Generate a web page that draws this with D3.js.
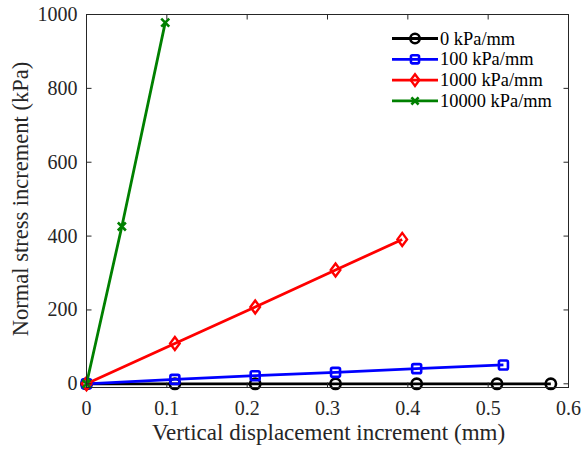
<!DOCTYPE html>
<html><head><meta charset="utf-8">
<script src="https://cdn.jsdelivr.net/npm/d3@7"></script>
<style>body{margin:0;background:#fff}svg{display:block}</style>
</head><body>
<svg id="c" width="584" height="453"></svg>
<script>
const seriesNames = ["0 kPa/mm","100 kPa/mm","1000 kPa/mm","10000 kPa/mm"];
const seriesColors = ["#000000","#0000ff","#ff0000","#008000"];
const seriesMarkers = ["circle","square","diamond","cross"];
const x0 = [0, 0.110, 0.210, 0.310, 0.411, 0.511, 0.578];
const y0 = [0, 0, 0, 0, 0, 0, 0];
const x100 = [0, 0.110, 0.210, 0.310, 0.411, 0.519];
const y100 = [0, 12, 22, 31, 41, 51];
const x1000 = [0, 0.110, 0.210, 0.310, 0.393];
const y1000 = [0, 109, 208, 308, 391];
const x10000 = [0, 0.044, 0.098];
const y10000 = [0, 426, 978];
const xTicks = [0, 0.1, 0.2, 0.3, 0.4, 0.5, 0.6];
const yTicks = [0, 200, 400, 600, 800, 1000];
const xLabel = "Vertical displacement increment (mm)";
const yLabel = "Normal stress increment (kPa)";

const series = [[x0,y0],[x100,y100],[x1000,y1000],[x10000,y10000]].map((d,i)=>({
  name: seriesNames[i], color: seriesColors[i], marker: seriesMarkers[i],
  pts: d[0].map((v,j)=>[v, d[1][j]])
}));

const svg = d3.select("#c");
const L=86.5, R=568.5, T=14.5, B=387.5;
const x = d3.scaleLinear().domain([0,0.6]).range([L,R]);
const y = d3.scaleLinear().domain([-10,1000]).range([B,T]);
const font = "'Liberation Serif','Times New Roman',serif";
const axCol = "#262626";

const line = d3.line().x(d=>x(d[0])).y(d=>y(d[1]));
function drawMarker(g, type, cx, cy, color, k){
  k = k||1;
  if(type==="circle"){
    g.append("circle").attr("cx",cx).attr("cy",cy).attr("r",5.2*k).attr("fill","none").attr("stroke",color).attr("stroke-width",2.6);
  } else if(type==="square"){
    g.append("rect").attr("x",cx-4.5*k).attr("y",cy-4.5*k).attr("width",9*k).attr("height",9*k).attr("rx",1.5).attr("fill","none").attr("stroke",color).attr("stroke-width",2.6);
  } else if(type==="diamond"){
    g.append("path").attr("d",`M${cx},${cy-6.5*k}L${cx+4.8*k},${cy}L${cx},${cy+6.5*k}L${cx-4.8*k},${cy}Z`).attr("fill","none").attr("stroke",color).attr("stroke-width",2.4);
  } else {
    g.append("path").attr("d",`M${cx-4*k},${cy-4*k}L${cx+4*k},${cy+4*k}M${cx-4*k},${cy+4*k}L${cx+4*k},${cy-4*k}`).attr("fill","none").attr("stroke",color).attr("stroke-width",2.6);
  }
}
const gS = svg.append("g");
series.forEach(s=>{
  gS.append("path").datum(s.pts).attr("d",line).attr("fill","none").attr("stroke",s.color).attr("stroke-width",2.8).attr("stroke-linejoin","round");
  s.pts.forEach(p=>drawMarker(gS, s.marker, x(p[0]), y(p[1]), s.color));
});

const gA = svg.append("g");
gA.append("rect").attr("x",L).attr("y",T).attr("width",R-L).attr("height",B-T).attr("fill","none").attr("stroke",axCol).attr("stroke-width",1);
const tl = 5;
xTicks.forEach(t=>{
  gA.append("line").attr("x1",x(t)).attr("x2",x(t)).attr("y1",B).attr("y2",B-tl).attr("stroke",axCol);
  gA.append("line").attr("x1",x(t)).attr("x2",x(t)).attr("y1",T).attr("y2",T+tl).attr("stroke",axCol);
  gA.append("text").attr("x",x(t)).attr("y",B+27).attr("text-anchor","middle").attr("font-family",font).attr("font-size",20).attr("fill",axCol).text(t===0?"0":d3.format(".1f")(t));
});
yTicks.forEach(t=>{
  gA.append("line").attr("x1",L).attr("x2",L+tl).attr("y1",y(t)).attr("y2",y(t)).attr("stroke",axCol);
  gA.append("line").attr("x1",R).attr("x2",R-tl).attr("y1",y(t)).attr("y2",y(t)).attr("stroke",axCol);
  gA.append("text").attr("x",L-9).attr("y",y(t)+6.5).attr("text-anchor","end").attr("font-family",font).attr("font-size",20).attr("fill",axCol).text(t);
});
gA.append("text").attr("x",328.5).attr("y",440).attr("text-anchor","middle").attr("font-family",font).attr("font-size",23).attr("fill",axCol).text(xLabel);
gA.append("text").attr("transform",`translate(27.5,199) rotate(-90)`).attr("text-anchor","middle").attr("font-family",font).attr("font-size",22.5).attr("fill",axCol).text(yLabel);

const gL = svg.append("g");
series.forEach((s,i)=>{
  const ly = 38.5 + i*20.8;
  gL.append("line").attr("x1",392).attr("x2",438).attr("y1",ly).attr("y2",ly).attr("stroke",s.color).attr("stroke-width",2.8);
  drawMarker(gL, s.marker, 415, ly, s.color, 0.9);
  gL.append("text").attr("x",440).attr("y",ly+6).attr("font-family",font).attr("font-size",18.4).attr("fill","#000").text(s.name);
});
</script>
</body></html>
